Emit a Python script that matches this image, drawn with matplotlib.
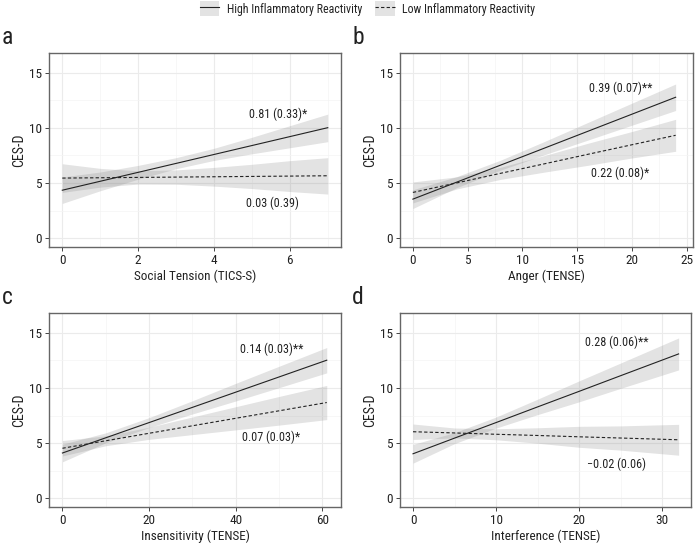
import matplotlib.pyplot as plt
from matplotlib.lines import Line2D
from matplotlib.patches import Patch

plt.rcParams['font.family'] = ['Roboto Condensed', 'Archivo Narrow', 'IBM Plex Sans Condensed',
                               'Liberation Sans', 'DejaVu Sans']

# panel a - Social Tension (TICS-S)
a_x = [0, 1, 2, 3, 4, 5, 6, 7]
a_high = [4.35, 5.16, 5.97, 6.78, 7.59, 8.40, 9.21, 10.02]
a_high_lo = [3.15, 4.3, 5.35, 6.3, 7.05, 7.65, 8.2, 8.75]
a_high_hi = [5.55, 6.0, 6.6, 7.3, 8.15, 9.15, 10.2, 11.25]
a_low = [5.45, 5.48, 5.51, 5.54, 5.57, 5.6, 5.63, 5.66]
a_low_lo = [4.15, 4.63, 4.91, 4.89, 4.72, 4.5, 4.23, 4.0]
a_low_hi = [6.75, 6.33, 6.11, 6.19, 6.42, 6.7, 7.03, 7.3]

# panel b - Anger (TENSE)
b_x = [0, 4, 8, 12, 16, 20, 24]
b_high = [3.54, 5.08, 6.62, 8.16, 9.70, 11.24, 12.78]
b_high_lo = [2.69, 4.58, 6.17, 7.56, 8.9, 10.24, 11.58]
b_high_hi = [4.39, 5.58, 7.07, 8.76, 10.5, 12.24, 13.98]
b_low = [4.15, 5.01, 5.88, 6.74, 7.61, 8.47, 9.33]
b_low_lo = [3.2, 4.46, 5.33, 5.99, 6.61, 7.27, 7.88]
b_low_hi = [5.1, 5.56, 6.43, 7.49, 8.61, 9.67, 10.78]

# panel c - Insensitivity (TENSE)
c_x = [0, 10, 20, 30, 40, 50, 61]
c_high = [4.1, 5.48, 6.86, 8.24, 9.62, 11.0, 12.52]
c_high_lo = [3.3, 5.03, 6.41, 7.64, 8.82, 10.03, 11.37]
c_high_hi = [4.9, 5.93, 7.31, 8.84, 10.42, 11.97, 13.67]
c_low = [4.53, 5.21, 5.89, 6.57, 7.25, 7.93, 8.68]
c_low_lo = [3.83, 4.76, 5.34, 5.77, 6.2, 6.63, 7.13]
c_low_hi = [5.23, 5.66, 6.44, 7.37, 8.3, 9.23, 10.23]

# panel d - Interference (TENSE)
d_x = [0, 5, 10, 15, 20, 25, 32]
d_high = [4.03, 5.45, 6.86, 8.28, 9.69, 11.11, 13.09]
d_high_lo = [3.18, 4.95, 6.36, 7.58, 8.74, 9.96, 11.64]
d_high_hi = [4.88, 5.95, 7.36, 8.98, 10.64, 12.26, 14.54]
d_low = [6.03, 5.92, 5.8, 5.69, 5.57, 5.46, 5.3]
d_low_lo = [5.33, 5.47, 5.3, 4.99, 4.62, 4.36, 3.9]
d_low_hi = [6.73, 6.37, 6.3, 6.39, 6.52, 6.56, 6.7]

paneles = [
    ('a', 'Social Tension (TICS-S)', a_x, a_high, a_high_lo, a_high_hi, a_low, a_low_lo, a_low_hi,
     [0, 2, 4, 6], [1, 3, 5, 7], (-0.35, 7.35),
     ('0.81 (0.33)*', 5.7, 11.2), ('0.03 (0.39)', 5.55, 3.2)),
    ('b', 'Anger (TENSE)', b_x, b_high, b_high_lo, b_high_hi, b_low, b_low_lo, b_low_hi,
     [0, 5, 10, 15, 20, 25], [2.5, 7.5, 12.5, 17.5, 22.5], (-1.2, 25.6),
     ('0.39 (0.07)**', 18.95, 13.55), ('0.22 (0.08)*', 18.95, 5.9)),
    ('c', 'Insensitivity (TENSE)', c_x, c_high, c_high_lo, c_high_hi, c_low, c_low_lo, c_low_hi,
     [0, 20, 40, 60], [10, 30, 50], (-3.1, 64.3),
     ('0.14 (0.03)**', 48.4, 13.5), ('0.07 (0.03)*', 48.2, 5.5)),
    ('d', 'Interference (TENSE)', d_x, d_high, d_high_lo, d_high_hi, d_low, d_low_lo, d_low_hi,
     [0, 10, 20, 30], [5, 15, 25], (-1.6, 33.5),
     ('0.28 (0.06)**', 24.6, 14.1), ('\u22120.02 (0.06)', 24.5, 3.1)),
]

posiciones = [
    [0.0703, 0.5476, 0.419, 0.3555],
    [0.5735, 0.5476, 0.421, 0.3555],
    [0.0703, 0.0714, 0.419, 0.3553],
    [0.5735, 0.0714, 0.418, 0.3553],
]

fig = plt.figure(figsize=(6.97, 5.46), dpi=100)

banda = '#808080'
for pos, p in zip(posiciones, paneles):
    (letra, xlabel, x, hi, hi_lo, hi_hi, lo, lo_lo, lo_hi,
     xticks, xminor, xlim, txt_hi, txt_lo) = p
    ax = fig.add_axes(pos)
    ax.fill_between(x, hi_lo, hi_hi, color=banda, alpha=0.22, linewidth=0)
    ax.fill_between(x, lo_lo, lo_hi, color=banda, alpha=0.22, linewidth=0)
    ax.plot(x, hi, color='#222222', linewidth=0.8)
    ax.plot(x, lo, color='#222222', linewidth=0.8, linestyle=(0, (3, 2)))

    ax.set_xlim(xlim)
    ax.set_ylim(-0.8, 16.8)
    ax.set_xticks(xticks)
    ax.set_xticks(xminor, minor=True)
    ax.set_yticks([0, 5, 10, 15])
    ax.set_yticks([2.5, 7.5, 12.5], minor=True)
    ax.grid(True, which='major', color='#EBEBEB', linewidth=0.8)
    ax.grid(True, which='minor', color='#F4F4F4', linewidth=0.5)
    ax.set_axisbelow(True)
    ax.tick_params(which='major', length=3, width=0.7, color='#444444',
                   labelsize=9.5, labelcolor='#222222', pad=2)
    ax.tick_params(which='minor', length=0)
    for s in ax.spines.values():
        s.set_color('#666666')
        s.set_linewidth(1.0)

    ax.set_xlabel(xlabel, fontsize=9.5, color='#222222', labelpad=2)
    ax.set_ylabel('CES-D', fontsize=10, color='#222222', labelpad=2)

    ax.text(txt_hi[1], txt_hi[2], txt_hi[0], ha='center', va='center', fontsize=8.7, color='#222222')
    ax.text(txt_lo[1], txt_lo[2], txt_lo[0], ha='center', va='center', fontsize=8.7, color='#222222')

    fig.text(pos[0] - 0.068, pos[1] + pos[3] + 0.0165, letra, fontsize=17, color='#222222',
             ha='left', va='baseline')

manejadores = [
    (Patch(facecolor=banda, alpha=0.22, linewidth=0), Line2D([], [], color='#222222', linewidth=0.8)),
    (Patch(facecolor=banda, alpha=0.22, linewidth=0),
     Line2D([], [], color='#222222', linewidth=0.8, linestyle=(0, (3, 2)))),
]
fig.legend(manejadores, ['High Inflammatory Reactivity', 'Low Inflammatory Reactivity'],
           loc='upper left', bbox_to_anchor=(200 / 697, 1 - 1 / 546), ncol=2, frameon=False,
           borderpad=0, borderaxespad=0,
           fontsize=8.6, handlelength=1.6, handleheight=1.6, columnspacing=1.1,
           handletextpad=0.65, labelcolor='#222222')

fig.savefig('out.png', dpi=100)
